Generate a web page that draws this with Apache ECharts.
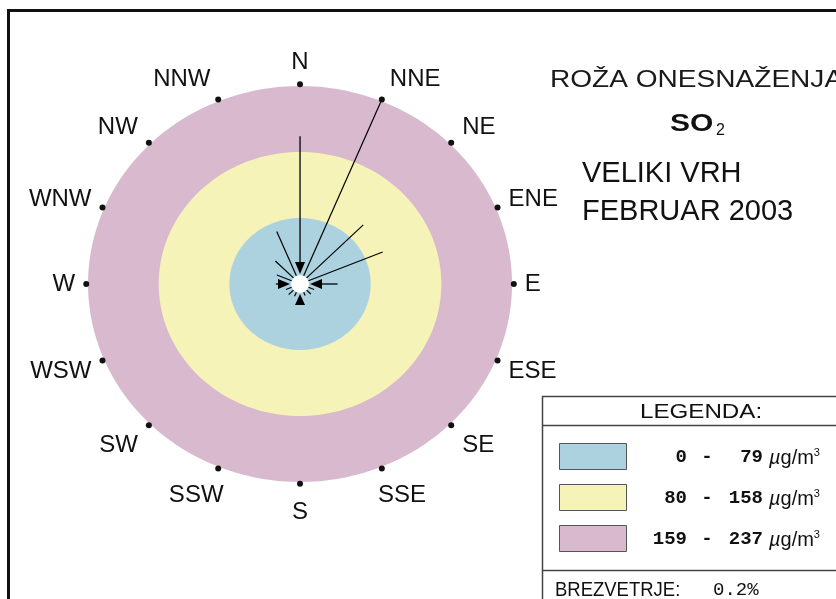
<!DOCTYPE html>
<html><head><meta charset="utf-8">
<script src="https://cdn.jsdelivr.net/npm/echarts@6/dist/echarts.min.js"></script>
<style>html,body{margin:0;padding:0;background:#fff}#c{width:836px;height:599px}</style>
</head><body><div id="c"></div>
<script>
// ---------------- data ----------------
const directions = ['N','NNE','NE','ENE','E','ESE','SE','SSE','S','SSW','SW','WSW','W','WNW','NW','NNW'];
const concentrations = [177, 240, 100, 100, 42, 17, 17, 15, 25, 16, 18, 17, 27, 28, 39, 68]; // µg/m3 per direction
const bandLower = [0, 80, 159];
const bandUpper = [79, 158, 237];
const calmShare = '0.2%';
const titleLines = ['ROŽA ONESNAŽENJA', 'SO', '2', 'VELIKI VRH', 'FEBRUAR 2003'];

// ---------------- styles / layout ----------------
const bandColors = ['#acd2e0', '#f5f3b8', '#d8b9cd'];
const AXIS_MAX = 250;
const DOT_R = 239;          // compass dots just outside the outer band (data units)
const CENTER_R_PX = 9;      // white calm circle
const TIP_GAP = 10, HEAD_LEN = 12, HEAD_HW = 5, MIN_HEAD_SPACE = 8;
const LABEL_FONT = 24;
const FONT = '"Liberation Sans", Arial, sans-serif';
const MONO = '"Liberation Mono", "Courier New", monospace';

const chart = echarts.init(document.getElementById('c'), null, {renderer: 'canvas'});

function textWidth(t, size) {
  const cv = textWidth.cv || (textWidth.cv = document.createElement('canvas'));
  const ctx = cv.getContext('2d');
  ctx.font = size + 'px ' + FONT;
  return ctx.measureText(t).width;
}

const dotData = directions.map((d, i) => {
  const a = i * 22.5 * Math.PI / 180;
  const s = Math.sin(a), c = Math.cos(a);
  const half = textWidth(d, LABEL_FONT) / 2;
  const top = c > 0.01;
  const k = top ? 2.4 : 1.5;
  const dx = Math.abs(s) < 1e-6 ? 0 : Math.sign(s) * Math.min(1, Math.abs(s) * k) * (half + 11);
  const dy = -c * (top ? 22 : 29);
  return {name: d, value: [DOT_R * s, DOT_R * c], label: {offset: [dx, dy]}};
});

// rings: outermost first
const ringData = bandUpper.map((u, i) => ({value: [u, i]})).reverse();

const arrowData = concentrations.map((v, i) => [i * 22.5, v, i % 4 === 0 ? 1 : 0]);

const option = {
  animation: false,
  backgroundColor: '#ffffff',
  grid: {left: 300 - 223.6, width: 447.25, top: 284 - 208.85, height: 417.7},
  xAxis: {type: 'value', min: -AXIS_MAX, max: AXIS_MAX, show: false},
  yAxis: {type: 'value', min: -AXIS_MAX, max: AXIS_MAX, show: false},
  series: [
    {
      type: 'custom', silent: true, z: 1,
      data: ringData,
      renderItem(params, api) {
        const r = api.value(0), idx = api.value(1);
        const pts = [];
        for (let k = 0; k < 180; k++) {
          const a = k * 2 * Math.PI / 180;
          pts.push(api.coord([r * Math.sin(a), r * Math.cos(a)]));
        }
        return {type: 'polygon', shape: {points: pts}, style: {fill: bandColors[idx], stroke: null}};
      }
    },
    {
      type: 'custom', silent: true, z: 2,
      data: [[0, 0]],
      renderItem(params, api) {
        const c = api.coord([0, 0]);
        return {type: 'circle', shape: {cx: c[0], cy: c[1], r: CENTER_R_PX}, style: {fill: '#ffffff'}};
      }
    },
    {
      type: 'custom', silent: true, z: 3,
      data: arrowData,
      renderItem(params, api) {
        const a = api.value(0) * Math.PI / 180, v = api.value(1), headed = api.value(2) === 1;
        const c = api.coord([0, 0]);
        const p = api.coord([v * Math.sin(a), v * Math.cos(a)]);
        const dx = c[0] - p[0], dy = c[1] - p[1];
        const L = Math.hypot(dx, dy);
        const ux = dx / L, uy = dy / L, nx = -uy, ny = ux;
        const tip = [c[0] - ux * TIP_GAP, c[1] - uy * TIP_GAP];
        const avail = L - TIP_GAP;
        const children = [];
        if (!headed || avail < MIN_HEAD_SPACE) {
          children.push({type: 'line', shape: {x1: p[0], y1: p[1], x2: tip[0] + ux * 1, y2: tip[1] + uy * 1},
            style: {stroke: '#000', lineWidth: 1.2}});
          return {type: 'group', children};
        }
        const hl = Math.min(HEAD_LEN, avail);
        const base = [tip[0] - ux * hl, tip[1] - uy * hl];
        if (avail > hl + 0.5) {
          children.push({type: 'line', shape: {x1: p[0], y1: p[1], x2: base[0], y2: base[1]},
            style: {stroke: '#000', lineWidth: 1.3}});
        }
        children.push({type: 'polygon', shape: {points: [tip, [base[0] + nx * HEAD_HW, base[1] + ny * HEAD_HW], [base[0] - nx * HEAD_HW, base[1] - ny * HEAD_HW]]},
          style: {fill: '#000'}});
        return {type: 'group', children};
      }
    },
    {
      type: 'scatter', silent: true, z: 4,
      symbol: 'circle', symbolSize: 6,
      itemStyle: {color: '#111', opacity: 1},
      data: dotData,
      label: {show: true, position: 'inside', formatter: '{b}', color: '#111',
        fontSize: LABEL_FONT, fontFamily: FONT, align: 'center', verticalAlign: 'middle'}
    }
  ],
  graphic: [
    // outer frame (cut by the picture edge)
    {type: 'rect', shape: {x: 8.5, y: 10.5, width: 900, height: 700}, style: {fill: 'none', stroke: '#111', lineWidth: 3}, z: 10},
    // titles
    {type: 'text', x: 550, y: 81, scaleX: 1.22, style: {text: titleLines[0], font: '23px ' + FONT, fill: '#1a1a1a', textVerticalAlign: 'middle'}},
    {type: 'text', x: 670, y: 124, scaleX: 1.25, style: {text: titleLines[1], font: 'bold 24px ' + FONT, fill: '#111', textVerticalAlign: 'middle'}},
    {type: 'text', x: 716, y: 131, style: {text: titleLines[2], font: '16px ' + FONT, fill: '#111', textVerticalAlign: 'middle'}},
    {type: 'text', x: 582, y: 174, style: {text: titleLines[3], font: '29px ' + FONT, fill: '#111', textVerticalAlign: 'middle'}},
    {type: 'text', x: 582, y: 212, style: {text: titleLines[4], font: '29px ' + FONT, fill: '#111', textVerticalAlign: 'middle'}},
    // legend box
    {type: 'rect', shape: {x: 542.5, y: 396.5, width: 400, height: 300}, style: {fill: '#fff', stroke: '#444', lineWidth: 1.5}, z: 5},
    {type: 'line', shape: {x1: 542, y1: 425.5, x2: 836, y2: 425.5}, style: {stroke: '#444', lineWidth: 1.5}, z: 6},
    {type: 'line', shape: {x1: 542, y1: 570.5, x2: 836, y2: 570.5}, style: {stroke: '#444', lineWidth: 1.5}, z: 6},
    {type: 'text', x: 640, y: 412, scaleX: 1.15, z: 6, style: {text: 'LEGENDA:', font: '21px ' + FONT, fill: '#111', textVerticalAlign: 'middle'}},
    ...bandLower.flatMap((lo, i) => {
      const y = [443, 484, 525][i];
      const cy = y + 14;
      return [
        {type: 'rect', z: 6, shape: {x: 559.5, y: y + 0.5, width: 67, height: 26}, style: {fill: bandColors[i], stroke: '#555', lineWidth: 1}},
        {type: 'text', z: 6, x: 687, y: cy, style: {text: String(lo), font: 'bold 19px ' + MONO, fill: '#111', textAlign: 'right', textVerticalAlign: 'middle'}},
        {type: 'text', z: 6, x: 707, y: cy, style: {text: '-', font: 'bold 19px ' + MONO, fill: '#111', textAlign: 'center', textVerticalAlign: 'middle'}},
        {type: 'text', z: 6, x: 763, y: cy, style: {text: String(bandUpper[i]), font: 'bold 19px ' + MONO, fill: '#111', textAlign: 'right', textVerticalAlign: 'middle'}},
        {type: 'text', z: 6, x: 769, y: cy + 1, style: {text: '{mu|µ}{u|g/m}{sup|3}', fill: '#111', textVerticalAlign: 'middle',
          rich: {mu: {font: 'italic 20px ' + FONT, fill: '#111'}, u: {font: '20px ' + FONT, fill: '#111'}, sup: {font: '11px ' + FONT, fill: '#111', padding: [0, 0, 10, 0]}}}}
      ];
    }),
    {type: 'text', x: 555, y: 590, scaleX: 0.88, z: 6, style: {text: 'BREZVETRJE:', font: '21px ' + FONT, fill: '#111', textVerticalAlign: 'middle'}},
    {type: 'text', x: 713, y: 590, z: 6, style: {text: calmShare, font: '19px ' + MONO, fill: '#111', textVerticalAlign: 'middle'}}
  ]
};
chart.setOption(option);
</script></body></html>
